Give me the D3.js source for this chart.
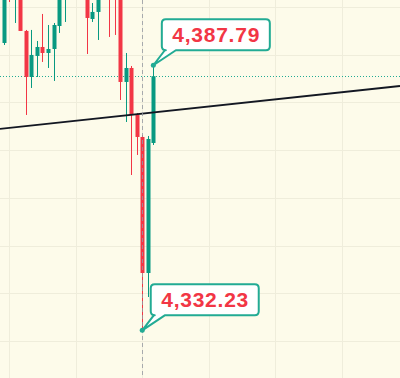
<!DOCTYPE html>
<html>
<head>
<meta charset="utf-8">
<script src="https://cdn.jsdelivr.net/npm/d3@7"></script>
<style>
  html, body { margin: 0; padding: 0; background: #fdfbea; }
  svg { display: block; }
</style>
</head>
<body>
<div id="chart"></div>
<script>
// ---- Data (5-min candles, index = bar number)
const opens  = [4392.46, 4406.0, 4402.5, 4404.0, 4394.98, 4385.33, 4389.74, 4391.62, 4390.36, 4391.2,
                4396.02, 4402.8, 4408.0, 4403.0, 4408.0, 4403.0, 4397.49, 4398.96, 4402.0, 4405.0,
                4403.0, 4402.0, 4384.29, 4387.22, 4377.37, 4372.76, 4344.25, 4371.5];
const highs  = [4404.6, 4407.0, 4406.0, 4405.0, 4395.19, 4395.19, 4392.88, 4398.54, 4396.23, 4396.65,
                4404.0, 4407.0, 4409.0, 4408.0, 4409.0, 4404.0, 4400.84, 4403.5, 4406.0, 4406.0,
                4404.5, 4403.0, 4390.36, 4387.64, 4377.79, 4373.18, 4372.97, 4387.79];
const lows   = [4392.04, 4401.05, 4396.65, 4394.98, 4377.37, 4383.03, 4385.33, 4388.48, 4387.22, 4384.5,
                4394.56, 4396.86, 4402.5, 4402.0, 4401.8, 4390.15, 4396.86, 4393.09, 4401.6, 4393.72,
                4394.14, 4380.51, 4375.9, 4364.79, 4368.99, 4332.23, 4339.22, 4371.08];
const closes = [4403.6, 4403.0, 4405.0, 4394.98, 4385.33, 4389.95, 4391.62, 4390.36, 4391.2, 4396.23,
                4402.5, 4406.0, 4404.0, 4407.0, 4403.0, 4397.7, 4398.96, 4402.8, 4405.0, 4402.2,
                4402.0, 4384.29, 4387.22, 4377.37, 4372.76, 4344.25, 4372.34, 4385.5];

const priceTicks = [4330, 4340, 4350, 4360, 4370, 4380, 4390, 4400];
const timeTicks  = [1, 13, 25, 37, 49, 61];

const lastPrice   = 4385.5;
const crosshairAt = 25;
const trendLine   = [{ i: 0, p: 4374.52 }, { i: 70, p: 4383.26 }];
const callouts    = [
  { i: 27, p: 4387.79, label: '4,387.79' },
  { i: 25, p: 4332.23, label: '4,332.23' }
];

const candles = opens.map((o, i) => ({ i, o, h: highs[i], l: lows[i], c: closes[i] }));

// ---- Layout
const W = 400, H = 378;
const UP = '#089981', DOWN = '#f23645';

const svg = d3.select('#chart').append('svg')
  .attr('width', W).attr('height', H);

svg.append('rect').attr('width', W).attr('height', H).attr('fill', '#fdfbea');

// ---- Scales
const x = d3.scaleLinear().domain([0, 12]).range([3.7, 70.2]);
const y = d3.scaleLinear().domain([4330, 4400]).range([341, 7]);
const step = x(1) - x(0);
const bodyW = Math.round(step * 0.74);

// ---- Grid
svg.append('g').selectAll('line').data(timeTicks).join('line')
  .attr('x1', d => Math.round(x(d)) + 0.5).attr('x2', d => Math.round(x(d)) + 0.5)
  .attr('y1', 0).attr('y2', H)
  .attr('stroke', '#efeddb').attr('stroke-width', 1);

svg.append('g').selectAll('line').data(priceTicks).join('line')
  .attr('x1', 0).attr('x2', W)
  .attr('y1', d => Math.round(y(d)) + 0.5).attr('y2', d => Math.round(y(d)) + 0.5)
  .attr('stroke', '#efeddb').attr('stroke-width', 1);

// ---- Last price line
svg.append('line')
  .attr('x1', 0).attr('x2', W)
  .attr('y1', Math.round(y(lastPrice)) + 0.5).attr('y2', Math.round(y(lastPrice)) + 0.5)
  .attr('stroke', '#22ab94').attr('stroke-width', 1)
  .attr('stroke-dasharray', '1,2');

// ---- Candles
const cg = svg.append('g');
cg.selectAll('.wick').data(candles).join('line')
  .attr('class', 'wick')
  .attr('x1', d => Math.round(x(d.i)) + 0.5).attr('x2', d => Math.round(x(d.i)) + 0.5)
  .attr('y1', d => y(d.h)).attr('y2', d => y(d.l))
  .attr('stroke', d => d.c >= d.o ? UP : DOWN).attr('stroke-width', 1);

cg.selectAll('.body').data(candles).join('rect')
  .attr('class', 'body')
  .attr('x', d => Math.round(x(d.i)) + 0.5 - bodyW / 2)
  .attr('y', d => y(Math.max(d.o, d.c)))
  .attr('width', bodyW)
  .attr('height', d => Math.max(1, Math.abs(y(d.o) - y(d.c))))
  .attr('fill', d => d.c >= d.o ? UP : DOWN);

// ---- Trend line (extended across the pane)
const slope = (trendLine[1].p - trendLine[0].p) / (trendLine[1].i - trendLine[0].i);
const iL = x.invert(0), iR = x.invert(W);
svg.append('line')
  .attr('x1', 0).attr('y1', y(trendLine[0].p + slope * (iL - trendLine[0].i)))
  .attr('x2', W).attr('y2', y(trendLine[0].p + slope * (iR - trendLine[0].i)))
  .attr('stroke', '#131722').attr('stroke-width', 1.8);

// ---- Crosshair vertical
svg.append('line')
  .attr('x1', Math.round(x(crosshairAt)) + 0.5).attr('x2', Math.round(x(crosshairAt)) + 0.5)
  .attr('y1', 0).attr('y2', H)
  .attr('stroke', '#9598a1').attr('stroke-opacity', 0.8)
  .attr('stroke-width', 1).attr('stroke-dasharray', '4,3');

// ---- Callouts
const boxW = 108, boxH = 31, r = 4;
callouts.forEach(cl => {
  const px = x(cl.i), py = y(cl.p);
  const bx = px + 8.5, by = py - 15 - boxH;
  const g = svg.append('g');
  // body + tail as one outline
  const path = [
    `M${bx + r},${by}`,
    `H${bx + boxW - r}`, `Q${bx + boxW},${by} ${bx + boxW},${by + r}`,
    `V${by + boxH - r}`, `Q${bx + boxW},${by + boxH} ${bx + boxW - r},${by + boxH}`,
    `H${bx + 14}`, `L${px},${py}`, `L${bx + 3},${by + boxH}`,
    `H${bx + r}`, `Q${bx},${by + boxH} ${bx},${by + boxH - r}`,
    `V${by + r}`, `Q${bx},${by} ${bx + r},${by}`, 'Z'
  ].join(' ');
  g.append('path').attr('d', path)
    .attr('fill', '#ffffff').attr('stroke', '#22ab94').attr('stroke-width', 2)
    .attr('stroke-linejoin', 'round');
  g.append('circle').attr('cx', px).attr('cy', py).attr('r', 2.5).attr('fill', '#22ab94');
  g.append('text')
    .attr('x', bx + boxW / 2).attr('y', by + boxH / 2 + 7.5)
    .attr('text-anchor', 'middle')
    .attr('textLength', 87).attr('lengthAdjust', 'spacing')
    .style('font-family', '"Liberation Sans", Arial, sans-serif')
    .style('font-weight', 700).style('font-size', '21px')
    .attr('fill', DOWN)
    .text(cl.label);
});
</script>
</body>
</html>
